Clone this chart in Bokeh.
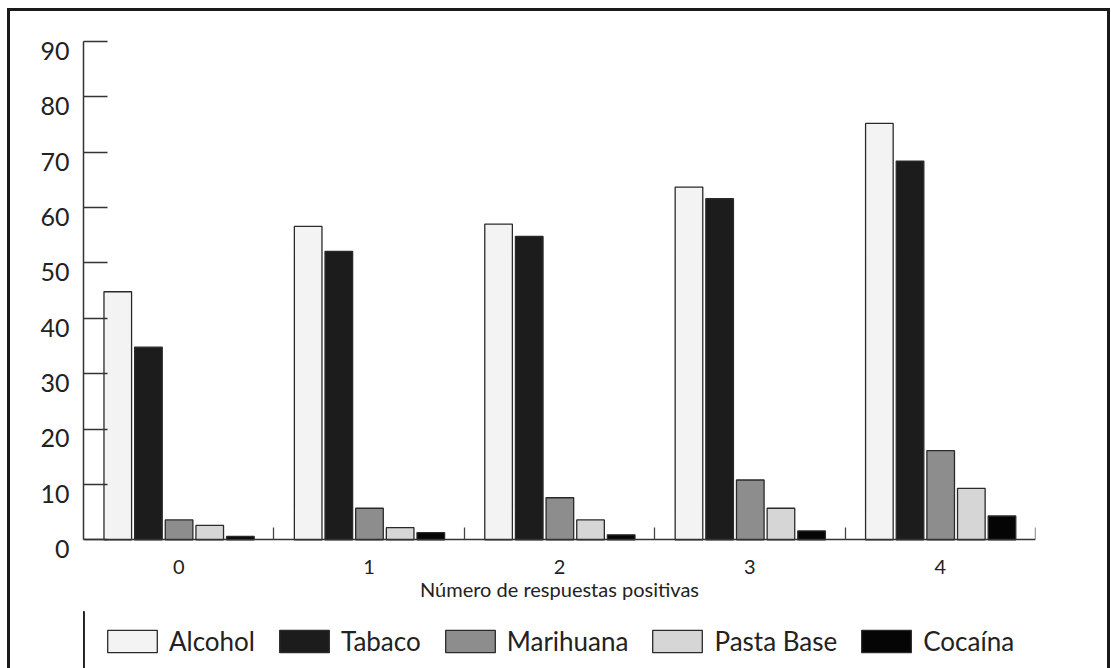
from bokeh.plotting import figure
from bokeh.models import Range1d, FixedTicker, Legend, LegendItem, LinearAxis
from bokeh.layouts import column
from bokeh.embed import file_html
from bokeh.resources import INLINE

# ---- data ----
categories = ["0", "1", "2", "3", "4"]
series_names = ["Alcohol", "Tabaco", "Marihuana", "Pasta Base", "Cocaína"]
alcohol = [44.8, 56.6, 57.0, 63.7, 75.2]
tabaco = [34.8, 52.1, 54.8, 61.6, 68.4]
marihuana = [3.6, 5.7, 7.6, 10.8, 16.1]
pasta_base = [2.6, 2.2, 3.6, 5.7, 9.3]
cocaina = [0.6, 1.3, 0.9, 1.6, 4.3]
y_ticks = [0, 10, 20, 30, 40, 50, 60, 70, 80, 90]

series_values = [alcohol, tabaco, marihuana, pasta_base, cocaina]
fills = ["#f3f3f3", "#1c1c1c", "#8d8d8d", "#d6d6d6", "#050505"]
offsets = [0.18, 0.341, 0.502, 0.663, 0.824]
bar_w = 0.145
label_shift = 1.7   # y tick labels sit a little below their ticks
y_lo = -1.75

FONT = "Lato"
W = 1097
ML, MR = 73, 72

p = figure(width=W, height=600, output_backend="svg", toolbar_location=None,
           x_range=Range1d(0, len(categories)), y_range=Range1d(y_lo, 90),
           min_border_left=ML, min_border_right=MR, min_border_top=30,
           min_border_bottom=62)
p.outline_line_color = None
p.xgrid.visible = False
p.ygrid.visible = False
p.background_fill_color = "white"
p.border_fill_color = "white"

group_x = list(range(len(categories)))
for name, vals, col, off in zip(series_names, series_values, fills, offsets):
    xs = [g + off for g in group_x]
    p.vbar(x=xs, top=vals, width=bar_w, bottom=0, fill_color=col,
           line_color="#2a2a2a", line_width=1.3)

# y axis: line + inward ticks
p.yaxis.ticker = FixedTicker(ticks=y_ticks)
p.yaxis.bounds = (0, 90)
p.yaxis.major_tick_in = 24
p.yaxis.major_tick_out = 0
p.yaxis.minor_tick_line_color = None
p.yaxis.major_label_standoff = 0
p.yaxis.major_label_text_color = None
p.yaxis.major_label_text_font_size = "1px"
p.yaxis.axis_line_color = "#333333"
p.yaxis.axis_line_width = 1.5
p.yaxis.major_tick_line_color = "#333333"
p.yaxis.major_tick_line_width = 1.5

# y tick labels, a little below their ticks as in the original
p.extra_y_ranges = {"lab": Range1d(y_lo + label_shift, 90 + label_shift)}
ylab = LinearAxis(y_range_name="lab", ticker=FixedTicker(ticks=y_ticks))
ylab.axis_line_color = None
ylab.major_tick_line_color = None
ylab.minor_tick_line_color = None
ylab.major_tick_in = 0
ylab.major_tick_out = 0
ylab.major_label_standoff = 14
ylab.major_label_text_font = FONT
ylab.major_label_text_font_size = "25px"
ylab.major_label_text_color = "#222222"
p.add_layout(ylab, "left")

# x axis line at y = 0 with group separator ticks
p.xaxis.fixed_location = 0
p.xaxis.ticker = FixedTicker(ticks=[g + 0.5 for g in group_x],
                             minor_ticks=[g + 1 for g in group_x])
p.xaxis.major_tick_in = 0
p.xaxis.major_tick_out = 0
p.xaxis.major_tick_line_color = None
p.xaxis.minor_tick_in = 12
p.xaxis.minor_tick_out = 0
p.xaxis.minor_tick_line_color = "#444444"
p.xaxis.minor_tick_line_width = 1.3
p.xaxis.major_label_standoff = 0
p.xaxis.major_label_text_color = None
p.xaxis.major_label_text_font_size = "1px"
p.xaxis.axis_line_color = "#333333"
p.xaxis.axis_line_width = 1.5

# x category labels and title
xlab = LinearAxis(ticker=FixedTicker(ticks=[g + 0.5 for g in group_x]))
xlab.major_label_overrides = {g + 0.5: c for g, c in zip(group_x, categories)}
xlab.axis_line_color = None
xlab.major_tick_line_color = None
xlab.minor_tick_line_color = None
xlab.major_tick_in = 0
xlab.major_tick_out = 0
xlab.major_label_standoff = 10
xlab.major_label_text_font = FONT
xlab.major_label_text_font_size = "20px"
xlab.major_label_text_color = "#222222"
xlab.axis_label = "Número de respuestas positivas"
xlab.axis_label_text_font = FONT
xlab.axis_label_text_font_style = "normal"
xlab.axis_label_text_font_size = "20px"
xlab.axis_label_text_color = "#222222"
xlab.axis_label_standoff = 0
p.add_layout(xlab, "below")

# legend strip (same styles as the bars; its renderers lie outside its ranges)
pl = figure(width=W, height=57, output_backend="svg", toolbar_location=None,
            x_range=Range1d(100, 101), y_range=Range1d(0, 1),
            x_axis_location=None, y_axis_location=None,
            min_border_left=ML, min_border_right=MR, min_border_top=0,
            min_border_bottom=0)
pl.outline_line_color = None
pl.xgrid.visible = False
pl.ygrid.visible = False
items = []
for name, vals, col, off in zip(series_names, series_values, fills, offsets):
    xs = [g + off for g in group_x]
    r = pl.vbar(x=xs, top=vals, width=bar_w, fill_color=col,
                line_color="#2a2a2a", line_width=1.3)
    items.append(LegendItem(label=name, renderers=[r]))

leg = Legend(items=items, orientation="horizontal", location=(18, 11))
leg.label_text_font = FONT
leg.label_text_font_size = "26px"
leg.label_text_color = "#222222"
leg.glyph_width = 62
leg.glyph_height = 28
leg.label_standoff = 6
leg.spacing = 18
leg.padding = 0
leg.margin = 0
leg.border_line_color = None
leg.background_fill_alpha = 0
pl.add_layout(leg, "center")

layout = column(p, pl, spacing=0)
layout.styles = {"margin-left": "7px", "margin-top": "8px",
                 "border-top": "3px solid #1a1a1a", "border-left": "3px solid #1a1a1a",
                 "border-right": "3px solid #1a1a1a"}

open("out.html", "w").write(file_html(layout, INLINE))
